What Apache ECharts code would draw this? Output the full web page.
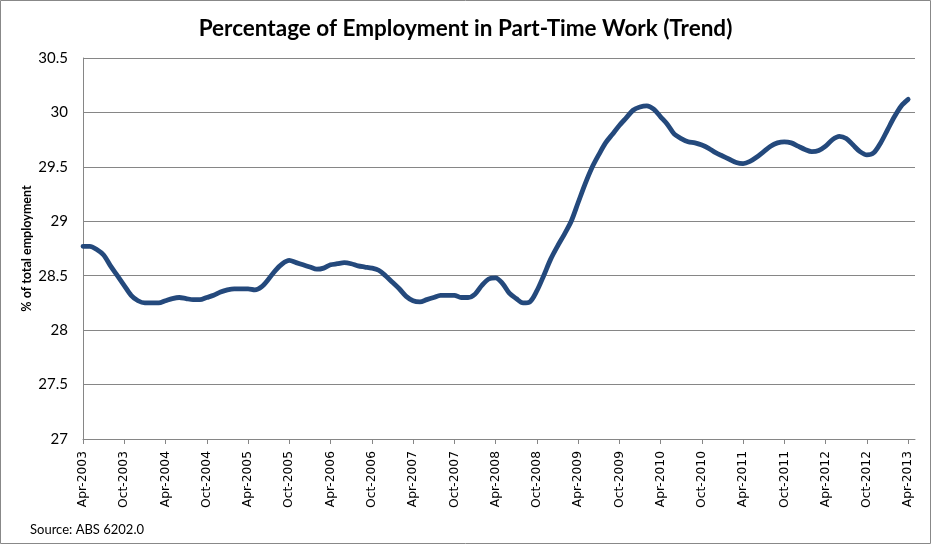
<!DOCTYPE html>
<html>
<head>
<meta charset="utf-8">
<script src="https://cdn.jsdelivr.net/npm/echarts@6/dist/echarts.min.js"></script>
<style>
html,body{margin:0;padding:0;background:#fff;}
#chart{width:931px;height:544px;}
</style>
</head>
<body>
<div id="chart"></div>
<script>
// Monthly trend values, Apr-2003 .. Apr-2013
const values = [
  28.77, 28.77, 28.74, 28.69, 28.59, 28.50, 28.41, 28.32, 28.27, 28.25, 28.25, 28.25,
  28.27, 28.29, 28.30, 28.29, 28.28, 28.28, 28.30, 28.32, 28.35, 28.37, 28.38, 28.38,
  28.38, 28.37, 28.40, 28.47, 28.55, 28.61, 28.64, 28.62, 28.60, 28.58, 28.56, 28.57,
  28.60, 28.61, 28.62, 28.61, 28.59, 28.58, 28.57, 28.55, 28.50, 28.44, 28.38, 28.31,
  28.27, 28.26, 28.28, 28.30, 28.32, 28.32, 28.32, 28.30, 28.30, 28.33, 28.41, 28.47,
  28.48, 28.43, 28.34, 28.29, 28.25, 28.26, 28.36, 28.50, 28.65, 28.77, 28.88, 29.00,
  29.17, 29.34, 29.49, 29.61, 29.72, 29.80, 29.88, 29.95, 30.02, 30.05, 30.06, 30.03,
  29.96, 29.89, 29.80, 29.76, 29.73, 29.72, 29.70, 29.67, 29.63, 29.60, 29.57, 29.54,
  29.53, 29.55, 29.59, 29.64, 29.69, 29.72, 29.73, 29.72, 29.69, 29.66, 29.64, 29.65,
  29.69, 29.75, 29.78, 29.76, 29.70, 29.64, 29.61, 29.63, 29.72, 29.84, 29.96, 30.06,
  30.12
];
const monthNames = ['Jan','Feb','Mar','Apr','May','Jun','Jul','Aug','Sep','Oct','Nov','Dec'];
const startYear = 2003, startMonth = 3; // April
const categoryCount = 122; // one spare month after Apr-2013 as in the original axis
const categories = [];
for (let i = 0; i < categoryCount; i++) {
  const m = (startMonth + i) % 12;
  const y = startYear + Math.floor((startMonth + i) / 12);
  categories.push(monthNames[m] + '-' + y);
}
const yTicks = { min: 27, max: 30.5, interval: 0.5 };
const titleText = 'Percentage of Employment in Part-Time Work (Trend)';
const yAxisName = '% of total employment';
const sourceText = 'Source: ABS 6202.0';

const chart = echarts.init(document.getElementById('chart'), null, {renderer: 'canvas'});
chart.setOption({
  backgroundColor: '#ffffff',
  animation: false,
  title: {
    text: titleText,
    left: 'center',
    top: 12,
    textStyle: { fontFamily: 'Lato', fontWeight: 'bold', fontSize: 22.5, color: '#000' }
  },
  graphic: [
    { type: 'rect', shape: { x: 0.5, y: 0.5, width: 930, height: 543 },
      style: { fill: 'none', stroke: '#888888', lineWidth: 1 }, silent: true, z: 100 },
    { type: 'text', left: 30, top: 523,
      style: { text: sourceText, fontFamily: 'Lato', fontSize: 13, fill: '#000' } }
  ],
  grid: { left: 83, right: 16, top: 58, bottom: 105, containLabel: false },
  xAxis: {
    type: 'category',
    data: categories,
    boundaryGap: false,
    axisLine: { lineStyle: { color: '#868686', width: 1 } },
    axisTick: { show: true, interval: 5, length: 5, lineStyle: { color: '#868686' } },
    axisLabel: {
      interval: 5, rotate: 90, margin: 12,
      fontFamily: 'DejaVu Sans', fontSize: 12.3, color: '#000'
    },
    splitLine: { show: false }
  },
  yAxis: {
    type: 'value',
    min: yTicks.min, max: yTicks.max, interval: yTicks.interval,
    name: yAxisName,
    nameLocation: 'middle',
    nameGap: 50,
    nameMoveOverlap: false,
    nameTextStyle: { fontFamily: 'Lato', fontWeight: 'bold', fontSize: 12.5, color: '#000' },
    axisLine: { show: true, lineStyle: { color: '#868686', width: 1 } },
    axisTick: { show: false },
    axisLabel: { margin: 15, fontFamily: 'Lato', fontSize: 15, color: '#000' },
    splitLine: { show: true, lineStyle: { color: '#868686', width: 1 } }
  },
  series: [{
    type: 'line',
    data: values,
    smooth: 0.3,
    showSymbol: false,
    symbol: 'none',
    lineStyle: { color: '#24497C', width: 4.8, cap: 'round', join: 'round' }
  }]
});
</script>
</body>
</html>
